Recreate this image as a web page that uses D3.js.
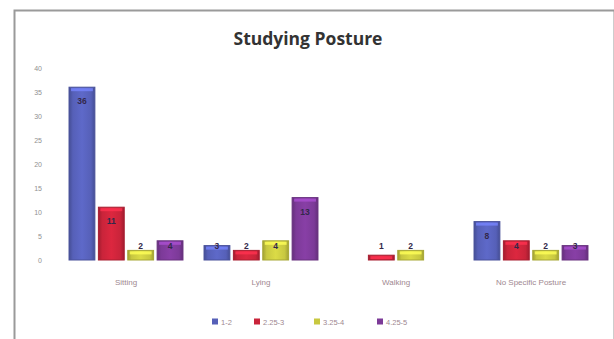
<!DOCTYPE html>
<html>
<head>
<meta charset="utf-8">
<script src="https://cdn.jsdelivr.net/npm/d3@7"></script>
<style>
  html, body { margin: 0; padding: 0; background: #fff; }
  svg { display: block; }
</style>
</head>
<body>
<svg id="chart" width="614" height="339"></svg>
<script>
// Categories, series and values
const categories = ["Sitting", "Lying", "Walking", "No Specific Posture"];
const seriesNames = ["1-2", "2.25-3", "3.25-4", "4.25-5"];
const seriesColors = ["#5660b8", "#c9243a", "#c8c840", "#7c3a98"];
const values1to2 = [36, 3, 0, 8];
const values225to3 = [11, 2, 1, 4];
const values325to4 = [2, 4, 2, 2];
const values425to5 = [4, 13, 0, 3];
const yTicks = [0, 5, 10, 15, 20, 25, 30, 35, 40];

const seriesValues = [values1to2, values225to3, values325to4, values425to5];

const svg = d3.select("#chart");

// Outer frame
svg.append("rect")
  .attr("x", 14.5).attr("y", 10.5)
  .attr("width", 600).attr("height", 340)
  .attr("fill", "#fff").attr("stroke", "#9a9a9a").attr("stroke-width", 2);

// Title
svg.append("text")
  .attr("x", 308).attr("y", 45)
  .attr("text-anchor", "middle")
  .attr("font-family", "'Open Sans', sans-serif")
  .attr("font-weight", "bold")
  .attr("font-size", 17.5)
  .attr("fill", "#333")
  .text("Studying Posture");

// Scales
const x0 = d3.scaleBand()
  .domain(categories)
  .range([58.5, 598.5])
  .paddingInner(0.156)
  .paddingOuter(0.078);

const x1 = d3.scaleBand()
  .domain(seriesNames)
  .range([0, x0.bandwidth()])
  .paddingInner(0.12);

const y = d3.scaleLinear().domain([0, 40]).range([260, 68]);

// Y axis (labels only)
const yAxis = svg.append("g")
  .attr("transform", "translate(45,0)")
  .call(d3.axisLeft(y).tickValues(yTicks).tickSize(0).tickPadding(3));
yAxis.select(".domain").remove();
yAxis.selectAll("text")
  .attr("font-family", "'Liberation Sans', sans-serif")
  .attr("font-size", 7)
  .attr("fill", "#909090");

// X axis (category labels only)
const xAxis = svg.append("g")
  .attr("transform", "translate(0,260)")
  .call(d3.axisBottom(x0).tickSize(0).tickPadding(19));
xAxis.select(".domain").remove();
xAxis.selectAll("text")
  .attr("font-family", "'Liberation Sans', sans-serif")
  .attr("font-size", 8)
  .attr("fill", "#a08890");

// Gradients for a bevelled bar look
const defs = svg.append("defs");
seriesColors.forEach((c, i) => {
  const g = defs.append("linearGradient")
    .attr("id", "grad" + i)
    .attr("x1", "0").attr("x2", "1").attr("y1", "0").attr("y2", "0");
  const base = d3.color(c);
  g.append("stop").attr("offset", "0%").attr("stop-color", base.darker(0.6));
  g.append("stop").attr("offset", "15%").attr("stop-color", base);
  g.append("stop").attr("offset", "50%").attr("stop-color", base.brighter(0.25));
  g.append("stop").attr("offset", "85%").attr("stop-color", base);
  g.append("stop").attr("offset", "100%").attr("stop-color", base.darker(0.6));
});

// Flattened records
const records = [];
categories.forEach((cat, ci) => {
  seriesNames.forEach((s, si) => {
    records.push({ cat, s, si, v: seriesValues[si][ci] });
  });
});

const bars = svg.append("g").selectAll("g")
  .data(records.filter(d => d.v > 0))
  .join("g");

bars.append("rect")
  .attr("x", d => x0(d.cat) + x1(d.s))
  .attr("y", d => y(d.v))
  .attr("width", x1.bandwidth())
  .attr("height", d => y(0) - y(d.v))
  .attr("fill", d => `url(#grad${d.si})`)
  .attr("stroke", d => d3.color(seriesColors[d.si]).darker(0.5))
  .attr("stroke-width", 1);

// Lighter cap on top of each bar
bars.append("rect")
  .attr("x", d => x0(d.cat) + x1(d.s) + 2)
  .attr("y", d => y(d.v) + 1)
  .attr("width", x1.bandwidth() - 4)
  .attr("height", d => Math.min(3, Math.max(0, y(0) - y(d.v) - 2)))
  .attr("fill", d => d3.color(seriesColors[d.si]).brighter(0.9))
  .attr("opacity", 0.8);

// Value labels near the top of each bar
bars.append("text")
  .attr("x", d => x0(d.cat) + x1(d.s) + x1.bandwidth() / 2)
  .attr("y", d => Math.min(y(d.v) + 14, y(0) - 14) + 3)
  .attr("text-anchor", "middle")
  .attr("font-family", "'Liberation Sans', sans-serif")
  .attr("font-size", 8.5)
  .attr("font-weight", "bold")
  .attr("fill", "#33284a")
  .text(d => d.v);

// Legend
const legendX = [212, 254, 314, 377];
const legend = svg.append("g").attr("transform", "translate(0,322)");
seriesNames.forEach((s, i) => {
  legend.append("rect")
    .attr("x", legendX[i]).attr("y", -3.5)
    .attr("width", 6).attr("height", 6)
    .attr("fill", seriesColors[i]);
  legend.append("text")
    .attr("x", legendX[i] + 9).attr("y", 2.5)
    .attr("font-family", "'Liberation Sans', sans-serif")
    .attr("font-size", 7.5)
    .attr("fill", "#a08890")
    .text(s);
});
</script>
</body>
</html>
